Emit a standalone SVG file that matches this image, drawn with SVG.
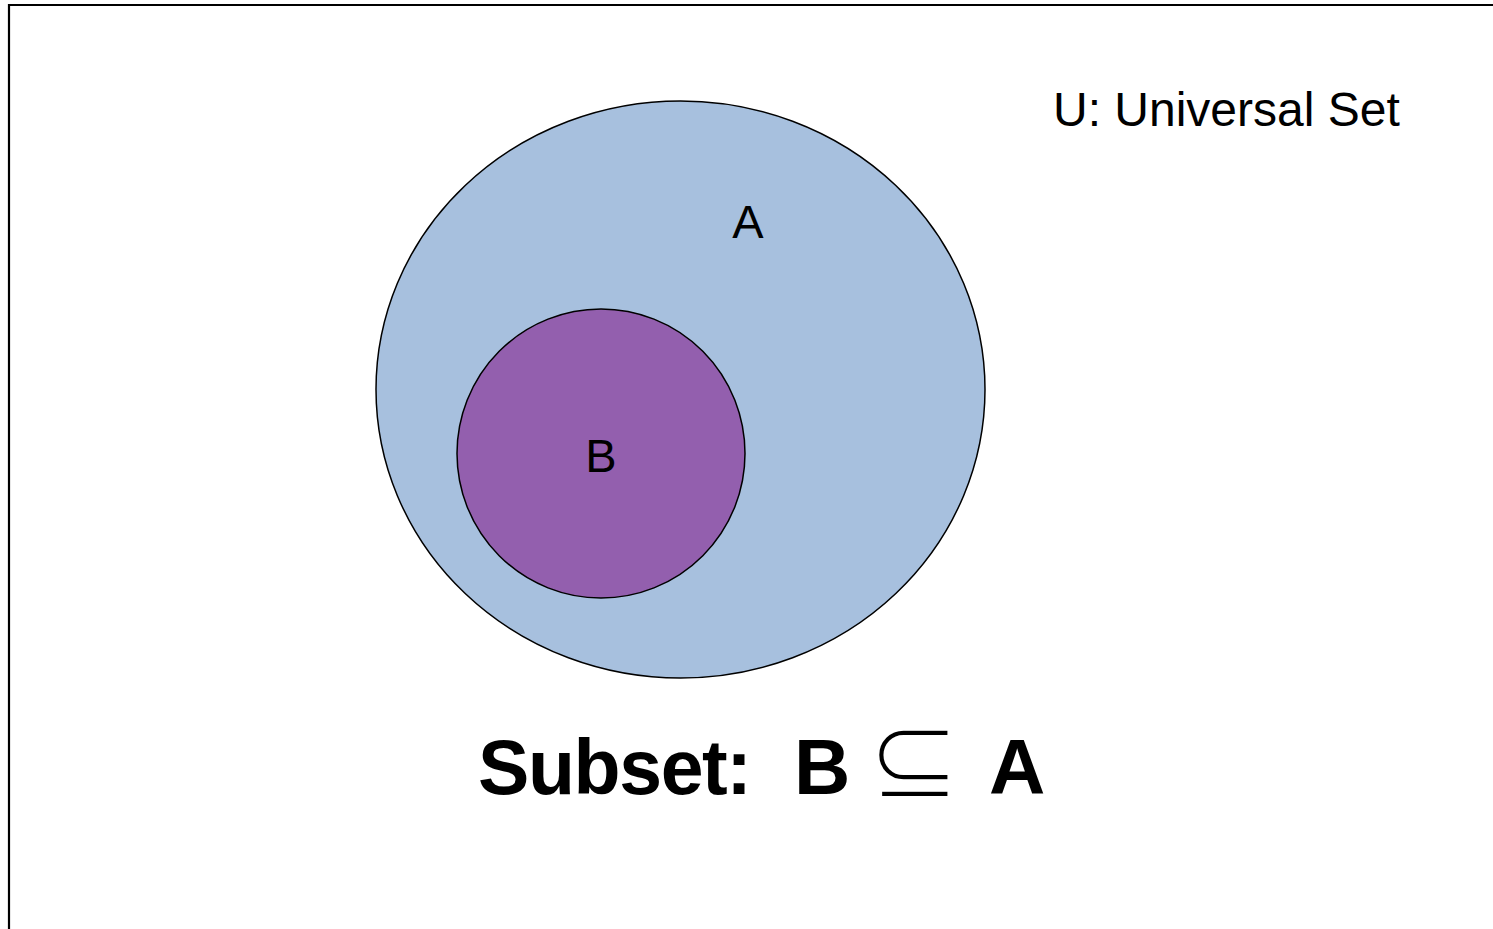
<svg xmlns="http://www.w3.org/2000/svg" width="1493" height="929" viewBox="0 0 1493 929">
<style>
.lbl{font-family:"Liberation Sans",Arial,sans-serif;fill:#000}
.set{stroke:#000;stroke-width:1.5}
</style>
<rect width="1493" height="929" fill="#fff"/>
<g id="frame">
<path d="M9,929 V5 H1493" fill="none" stroke="#000" stroke-width="2.2"/>
</g>
<g id="setA">
<ellipse class="set" cx="680.5" cy="389.5" rx="304.5" ry="288.5" fill="#A7C0DE"/>
<text class="lbl" x="748" y="238" font-size="47" text-anchor="middle">A</text>
</g>
<g id="setB">
<ellipse class="set" cx="601" cy="453.5" rx="144" ry="144.5" fill="#935FAE"/>
<text class="lbl" x="601" y="472" font-size="47" text-anchor="middle">B</text>
</g>
<g id="universe">
<text class="lbl" x="1053" y="126" font-size="48">U: Universal Set</text>
</g>
<g id="caption">
<text class="lbl" x="478" y="794" font-size="77" font-weight="bold" textLength="274" lengthAdjust="spacing">Subset:</text>
<text class="lbl" x="794" y="794" font-size="78" font-weight="bold">B</text>
<text x="914" y="798" font-size="113" text-anchor="middle" font-family="DejaVu Sans,sans-serif" fill="#000" stroke="#fff" stroke-width="4">⊆</text>
<text class="lbl" x="989" y="794" font-size="78" font-weight="bold">A</text>
</g>
</svg>
